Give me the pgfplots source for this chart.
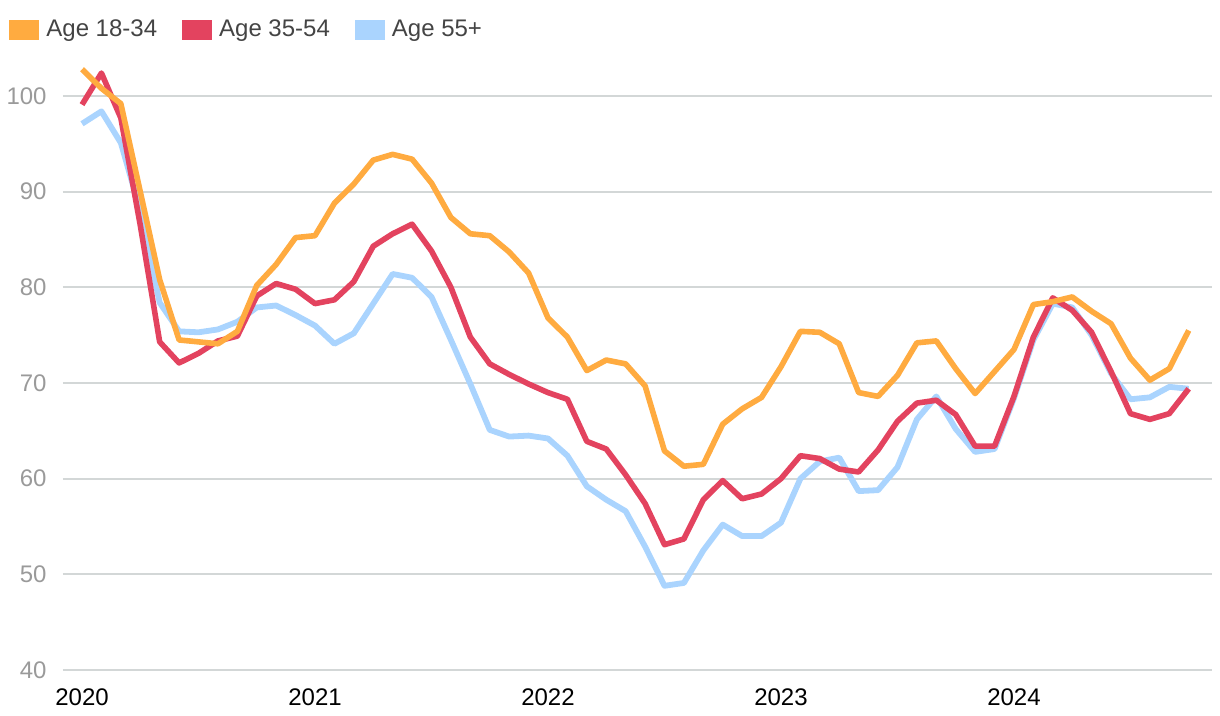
\documentclass[border=0pt]{standalone}
\usepackage{fontspec}
\setmainfont{Liberation Sans}
\usepackage{pgfplots}
\pgfplotsset{compat=1.18}
\usepackage{pgfplotstable}
\definecolor{cOrange}{HTML}{FFAB40}
\definecolor{cRed}{HTML}{E3435F}
\definecolor{cBlue}{HTML}{AAD4FE}
\definecolor{cGrid}{HTML}{D3D7D7}
\definecolor{cTickY}{HTML}{9A9A9A}
\definecolor{cLeg}{HTML}{444444}

\pgfplotstableread{
i v
0 102.8
1 100.8
2 99.2
3 90.0
4 80.8
5 74.5
6 74.3
7 74.1
8 75.4
9 80.2
10 82.4
11 85.2
12 85.4
13 88.8
14 90.8
15 93.3
16 93.9
17 93.4
18 90.9
19 87.3
20 85.6
21 85.4
22 83.7
23 81.5
24 76.8
25 74.8
26 71.3
27 72.4
28 72.0
29 69.7
30 62.9
31 61.3
32 61.5
33 65.7
34 67.3
35 68.5
36 71.7
37 75.4
38 75.3
39 74.1
40 69.0
41 68.6
42 70.8
43 74.2
44 74.4
45 71.5
46 68.9
47 71.2
48 73.5
49 78.2
50 78.5
51 79.0
52 77.5
53 76.2
54 72.6
55 70.3
56 71.5
57 75.5
}\young

\pgfplotstableread{
i v
0 99.1
1 102.4
2 97.7
3 86.5
4 74.3
5 72.1
6 73.1
7 74.4
8 74.9
9 79.1
10 80.4
11 79.8
12 78.3
13 78.7
14 80.6
15 84.3
16 85.6
17 86.6
18 83.8
19 80.0
20 74.8
21 72.0
22 70.9
23 69.9
24 69.0
25 68.3
26 63.9
27 63.1
28 60.4
29 57.4
30 53.1
31 53.7
32 57.8
33 59.8
34 57.9
35 58.4
36 60.0
37 62.4
38 62.1
39 61.0
40 60.7
41 63.0
42 66.0
43 67.9
44 68.2
45 66.7
46 63.4
47 63.4
48 68.6
49 74.8
50 78.9
51 77.6
52 75.3
53 71.2
54 66.8
55 66.2
56 66.8
57 69.4
}\middleage

\pgfplotstableread{
i v
0 97.1
1 98.4
2 95.1
3 88.0
4 78.4
5 75.4
6 75.3
7 75.6
8 76.4
9 77.9
10 78.1
11 77.1
12 76.0
13 74.1
14 75.2
15 78.3
16 81.4
17 81.0
18 79.0
19 74.5
20 69.9
21 65.1
22 64.4
23 64.5
24 64.2
25 62.4
26 59.2
27 57.8
28 56.6
29 52.9
30 48.8
31 49.1
32 52.5
33 55.2
34 54.0
35 54.0
36 55.4
37 60.0
38 61.8
39 62.2
40 58.7
41 58.8
42 61.2
43 66.2
44 68.6
45 65.2
46 62.8
47 63.1
48 68.4
49 74.5
50 78.3
51 77.9
52 75.0
53 71.0
54 68.3
55 68.5
56 69.6
57 69.4
}\senior

\begin{document}
\begin{tikzpicture}
\begin{axis}[
  at={(0,0)}, anchor=south west,
  scale only axis,
  width=574.5pt, height=308.5pt,
  xmin=-0.98, xmax=58.2,
  ymin=40, ymax=104.5,
  axis line style={draw=none},
  major tick length=0pt,
  ytick={40,50,...,100},
  xtick={0,12,24,36,48},
  xticklabels={2020,2021,2022,2023,2024},
  ymajorgrids,
  grid style={cGrid, line width=1pt},
  /pgf/number format/assume math mode=true,
  yticklabel style={font=\fontsize{12}{14}\selectfont, text=cTickY, anchor=east, inner sep=0pt, xshift=-8pt},
  xticklabel style={font=\fontsize{12}{14}\selectfont, text=black, anchor=north, inner sep=0pt, yshift=-9pt},
  legend columns=3,
  legend cell align=left,
  legend style={at={(rel axis cs:0,1)}, anchor=west, xshift=-27pt, yshift=11.5pt,
    draw=none, fill=none, inner sep=0pt,
    font=\fontsize{12}{14}\selectfont, text=cLeg,
    nodes={inner sep=0pt},
    /tikz/every odd column/.append style={column sep=3.5pt},
    /tikz/every even column/.append style={column sep=12.5pt}},
  legend image code/.code={\fill[#1, draw=none] (0pt,-5pt) rectangle (15pt,5pt);},
]
\addlegendimage{cOrange, fill=cOrange}
\addlegendentry{Age 18-34}
\addlegendimage{cRed, fill=cRed}
\addlegendentry{Age 35-54}
\addlegendimage{cBlue, fill=cBlue}
\addlegendentry{Age 55+}
\addplot[cBlue, line width=2.9pt, line join=round, mark=none, forget plot] table[x=i, y=v] {\senior};
\addplot[cRed, line width=2.8pt, line join=round, mark=none, forget plot] table[x=i, y=v] {\middleage};
\addplot[cOrange, line width=2.8pt, line join=round, mark=none, forget plot] table[x=i, y=v] {\young};
\end{axis}
\pgfresetboundingbox
\path (-31.5pt,-23pt) rectangle (578.5pt,335pt);
\end{tikzpicture}
\end{document}
